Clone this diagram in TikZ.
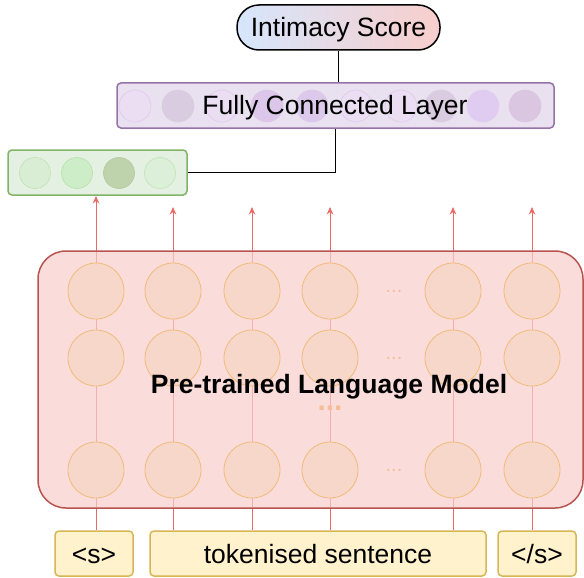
\documentclass[tikz,border=0pt]{standalone}
\usepackage{fontspec}
\setmainfont{Liberation Sans}
\usetikzlibrary{arrows.meta}

\definecolor{scoreL}{HTML}{D6E6FC}
\definecolor{scoreR}{HTML}{F8CECC}
\definecolor{fcfill}{HTML}{EAE1F0}
\definecolor{fcline}{HTML}{9673A6}
\definecolor{vecfill}{HTML}{E4F0E1}
\definecolor{vecline}{HTML}{82B366}
\definecolor{plmfill}{HTML}{F8CECC}
\definecolor{plmline}{HTML}{B85450}
\definecolor{unitfill}{HTML}{F8D7CB}
\definecolor{unitline}{HTML}{F0BB78}
\definecolor{tokfill}{HTML}{FFF2CC}
\definecolor{tokline}{HTML}{D6B656}
\definecolor{flowred}{HTML}{EA6B66}
\definecolor{dotcol}{HTML}{F7BC98}

\begin{document}
\begin{tikzpicture}[x=1pt,y=-1pt]
\tikzstyle{every node}+=[inner sep=0pt,text height=19pt,text depth=0pt,font=\fontsize{26.5}{30}\selectfont]
\tikzstyle{tok}=[draw=tokline,fill=tokfill,line width=1.5pt,rounded corners=4pt,minimum height=45pt]
\tikzstyle{unit}=[circle,draw=unitline,fill=unitfill,line width=0.8pt,minimum size=56pt]
\tikzstyle{fcunit}=[circle,minimum size=32pt,line width=0.6pt]
\tikzstyle{vecunit}=[circle,minimum size=31pt,line width=0.6pt]
\tikzstyle{flow}=[draw=flowred,line width=0.8pt,-{Stealth[length=7.5pt,width=6.5pt]}]
\tikzstyle{dots}=[text=dotcol,text height=3pt,font=\fontsize{20}{20}\selectfont]
\useasboundingbox (0,0) rectangle (584,578);
% tips of the output arrows
\coordinate (t1) at (96,196);
\coordinate (t2) at (173,207);
\coordinate (t3) at (252,207);
\coordinate (t4) at (330,207);
\coordinate (t5) at (453,207);
\coordinate (t6) at (532,207);
% input tokens
\node[tok,minimum width=78pt] (bos) at (94,553.5) {<s>};
\node[tok,minimum width=336pt] (sent) at (318,553.5) {tokenised sentence};
\node[tok,minimum width=78pt] (eos) at (537,553.5) {</s>};
\draw[flow] (bos.north -| t1) -- (t1);
\foreach \i in {2,...,5}
  \draw[flow] (sent.north -| t\i) -- (t\i);
\draw[flow] (eos.north -| t6) -- (t6);
% language model
\node[draw=plmline,fill=plmfill,fill opacity=0.7,line width=1.5pt,rounded corners=28pt,
  minimum width=545pt,minimum height=257pt] (plm) at (310.5,379.5) {};
\foreach \x [count=\i] in {96,173,252,330,453,532}
  \foreach \y [count=\j] in {291,358,470}
    \node[unit] (u\i-\j) at (\x,\y) {};
\foreach \y [count=\j] in {291,358,470}
  \node[dots] (d\j) at (394,\y) {...};
\node[dots,text height=5pt,font=\fontsize{30}{30}\selectfont\bfseries] (dmid) at (330,408) {...};
\node[font=\fontsize{26.5}{30}\selectfont\bfseries] (plmtext) at (329,384) {Pre-trained Language Model};
% sentence vector
\node[draw=vecline,fill=vecfill,line width=1.5pt,rounded corners=4pt,
  minimum width=179pt,minimum height=45pt] (vec) at (97.5,172.5) {};
\foreach \x/\f/\d [count=\i] in {35/D9EDD5/BFE3B4,77/CDECC8/B6E2AB,119/BED3AB/B3CA9F,160/DCEFD8/BFE5B4}{
  \definecolor{cf}{HTML}{\f}\definecolor{cd}{HTML}{\d}
  \node[vecunit,fill=cf,draw=cd] (v\i) at (\x,173) {};
}
% fully connected layer
\node[draw=fcline,fill=fcfill,line width=1.5pt,rounded corners=4pt,
  minimum width=437pt,minimum height=45pt] (fc) at (335.5,105.5) {};
\foreach \x/\f/\d [count=\i] in {135/EBDEF3/DEC8EC,178/D9CCE0/D9CCE0,222/EBDEF3/DEC8EC,267/DCC6EA/DCC6EA,
    312/DCC8EA/DCC8EA,356/EBDEF3/DEC8EC,401/EBDEF3/DEC8EC,441/D9CBE0/D9CBE0,483/E0CCF0/E0CCF0,525/DBC6E2/DBC6E2}{
  \definecolor{cf}{HTML}{\f}\definecolor{cd}{HTML}{\d}
  \node[fcunit,fill=cf,draw=cd] (f\i) at (\x,106) {};
}
\node (fctext) at (335,105) {Fully Connected Layer};
% output
\node[draw=black,line width=1.5pt,rounded corners=22pt,left color=scoreL,right color=scoreR,
  minimum width=203pt,minimum height=45pt] (score) at (338.5,27.5) {Intimacy Score};
\draw[line width=1.5pt] (vec.east) -| (fc.south);
\draw[line width=1.5pt] (score.south) -- (score.south |- fc.north);
\end{tikzpicture}
\end{document}
